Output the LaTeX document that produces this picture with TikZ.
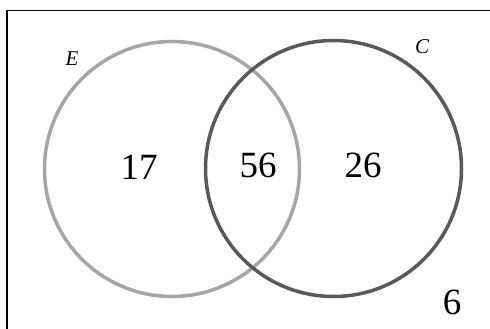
\documentclass[tikz,border=0pt]{standalone}
\usepackage{fontspec}
\setmainfont{Liberation Serif}
\begin{document}
\begin{tikzpicture}[x=1pt,y=-1pt,
  num/.style={font=\fontsize{37}{40}\selectfont, inner sep=0pt},
  setlab/.style={font=\fontsize{21}{23}\selectfont\itshape, inner sep=0pt},
  ecirc/.style={draw=black!35, line width=3.5pt},
  ccirc/.style={draw=black!65, line width=3.5pt}]
\useasboundingbox (0,0) rectangle (490,329);
\coordinate (tl) at (7,10.5);
\coordinate (tr) at (490,10.5);
\coordinate (bl) at (7,329);
\draw[line width=1.3pt] (tr) -- (tl) -- (bl);
\node[ecirc, circle, minimum size=255pt, inner sep=0pt] (E) at (172,169) {};
\node[ccirc, circle, minimum size=256pt, inner sep=0pt] (C) at (333.5,168.5) {};
\node[setlab] (le) at (72,59) {E};
\node[setlab] (lc) at (422,47) {C};
\node[num] (n17) at (139,167) {17};
\node[num] (n56) at (258,165) {56};
\node[num] (n26) at (363,165) {26};
\node[num] (n6) at (452,302) {6};
\end{tikzpicture}
\end{document}
